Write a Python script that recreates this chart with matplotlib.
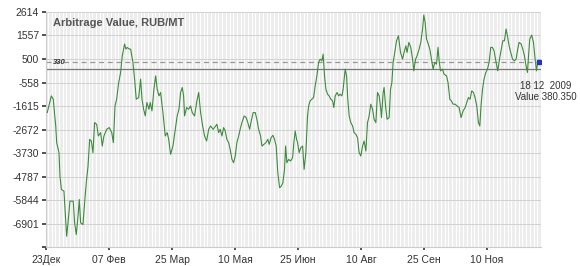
import matplotlib
matplotlib.use('Agg')
import matplotlib.pyplot as plt
import matplotlib.dates as mdates
import numpy as np
from datetime import datetime

plt.rcParams['font.family'] = ['Liberation Sans', 'DejaVu Sans']

# data: day offsets from 23 Dec 2008 and arbitrage value, RUB/MT
start = datetime(2008, 12, 23)
days = [0.9, 3.9, 5.3, 7.1, 7.8, 9.5, 10.2, 11.2, 13.1, 13.9, 15.1, 16.1, 17.5, 19.9, 20.9,
        22.1, 23.4, 24.3, 25.3, 27.0, 28.2, 29.4, 30.7, 31.9, 33.1, 34.3, 35.5, 37.0, 38.2,
        39.9, 41.1, 42.3, 44.3, 46.2, 48.0, 49.2, 50.4, 51.6, 53.1, 54.5, 55.7, 57.4, 58.4,
        59.3, 60.8, 61.8, 63.5, 64.7, 65.9, 67.7, 69.1, 70.1, 71.3, 72.5, 73.7, 75.2, 76.1,
        77.4, 78.8, 80.1, 81.2, 82.5, 83.7, 85.4, 87.1, 88.5, 89.6, 91.0, 92.7, 94.4, 95.8,
        97.1, 98.3, 99.5, 100.5, 101.2, 102.7, 104.2, 105.6, 106.8, 108.5, 110.2, 111.5,
        112.9, 114.4, 115.8, 117.3, 118.8, 120.2, 122.1, 124.8, 126.1, 127.2, 128.5, 129.7,
        130.9, 132.1, 133.4, 134.5, 135.8, 137.0, 138.2, 139.4, 140.7, 141.8, 143.1, 144.7,
        146.2, 147.4, 148.7, 149.9, 151.3, 152.8, 154.0, 155.3, 156.7, 157.7, 159.1, 160.6,
        162.0, 163.0, 164.4, 165.7, 166.9, 168.1, 169.3, 170.6, 171.8, 173.0, 174.2, 175.0,
        175.9, 177.2, 178.6, 180.1, 181.0, 182.0, 183.0, 183.7, 184.9, 186.1, 187.4, 188.5,
        189.8, 191.0, 191.8, 192.9, 194.2, 195.4, 196.6, 197.8, 199.1, 200.2, 201.5, 202.4,
        203.4, 204.4, 205.6, 206.8, 208.0, 209.3, 210.2, 211.2, 212.6, 213.7, 214.8, 216.1,
        217.0, 218.5, 219.5, 220.4, 221.4, 222.6, 223.9, 225.0, 226.3, 227.5, 228.7, 229.9,
        231.2, 232.3, 233.6, 234.8, 236.0, 237.2, 238.5, 239.6, 240.9, 242.1, 243.3, 244.5,
        245.0, 246.2, 246.9, 248.2, 249.1, 250.6, 251.6, 252.6, 253.5, 254.7, 256.0, 257.4,
        258.9, 260.4, 261.5, 262.8, 263.7, 265.0, 266.4, 267.7, 268.6, 269.9, 271.0, 272.5,
        273.7, 275.0, 275.9, 276.9, 277.9, 278.8, 280.3, 281.5, 282.7, 283.9, 285.2, 286.3,
        287.1, 288.1, 289.6, 290.7, 292.5, 293.6, 294.9, 296.1, 297.3, 298.8, 300.2, 301.7,
        303.1, 304.6, 306.1, 307.3, 308.5, 309.7, 310.9, 312.2, 313.3, 314.6, 315.8, 316.8,
        317.7, 318.8, 319.9, 321.2, 322.4, 323.6, 324.8, 326.0, 327.2, 328.5, 329.9, 331.2,
        332.3, 333.6, 334.8, 336.0, 337.0, 338.2, 339.4, 340.7, 342.1, 343.3, 344.5, 345.5,
        347.0, 348.2, 349.4, 350.6, 351.6, 352.4, 353.3, 354.7, 356.0, 357.2, 358.2, 359.1,
        360.0]
values = [-1910, -1161, -1310, -2514, -3263, -3714, -4769, -5369, -5445, -6271, -7475, -6857,
          -5896, -5896, -6871, -7398, -6573, -5820, -6871, -6947, -5969, -5067, -4318, -3114,
          -3190, -3714, -2361, -2437, -2965, -2812, -3416, -2965, -2663, -2586, -2812, -3263,
          -1612, -1310, -557, -106, 643, 1171, 945, 1022, 945, 945, 345, -408, -1310, -1233,
          -408, -1310, -1761, -2063, -1459, -1761, -1459, -1837, -859, -259, -859, -1161,
          -1008, -1910, -2965, -2812, -3114, -3790, -3416, -2663, -2063, -1761, -1008, -782,
          -1161, -2063, -1684, -1761, -1612, -1910, -2063, -1386, -1008, -1910, -2514, -2965,
          -3190, -2663, -2514, -2663, -2437, -2812, -2663, -2965, -2586, -2739, -3114, -3263,
          -3565, -4016, -4165, -3867, -3263, -2965, -2663, -2361, -2063, -2135, -2361, -2663,
          -2288, -1910, -1910, -2212, -2663, -2965, -3416, -3339, -3263, -3114, -3339, -3037,
          -2933, -3114, -3416, -4616, -5292, -5220, -5067, -4467, -3416, -4165, -4016, -4092,
          -3939, -3263, -2739, -3114, -3263, -3714, -3488, -3416, -4467, -3714, -2063, -1612,
          -1386, -1310, -1233, -710, -259, 345, 494, 418, 720, -259, -859, -1084, -1161, -1310,
          -1386, -1684, -1161, -1008, -1161, -1084, -1161, -859, 43, -259, -1310, -2063, -2361,
          -2514, -2812, -2888, -3037, -3714, -3867, -3416, -3190, -3641, -2361, -2063, -1535,
          -1761, -2212, -2361, -1008, -1161, -1761, -2135, -1008, -782, -1761, -2212, -2135,
          -859, -557, 345, 796, 1320, 1545, 796, 494, 796, 1094, 796, 1247, 1022, 494, -33, 494,
          643, 945, 1247, 1847, 2479, 2149, 1396, 1247, 945, 494, 43, 345, 269, 1022, 418, -33,
          43, -182, -259, -557, -1310, -1386, -1535, -1535, -1612, -1684, -2135, -1837, -1684,
          -1459, -1233, -1310, -935, -1008, -1233, -1612, -2361, -2514, -1612, -859, -408, -106,
          43, 345, 1022, 1022, 869, 418, -33, 494, 869, 1320, 1320, 1847, 1545, 1094, 796, 494,
          418, 494, 945, 1247, 1171, 945, 643, 192, -106, 643, 1396, 1577, 1247, 494, -33, 345,
          380.35]

y_ticks = [2614, 1557, 500, -558, -1615, -2672, -3730, -4787, -5844, -6901, -7958]
y_labels = ['2614', '1557', '500', '-558', '-1615', '-2672', '-3730', '-4787', '-5844', '-6901', '']
x_tick_dates = [datetime(2008, 12, 23), datetime(2009, 2, 7), datetime(2009, 3, 25),
                datetime(2009, 5, 10), datetime(2009, 6, 25), datetime(2009, 8, 10),
                datetime(2009, 9, 25), datetime(2009, 11, 10)]
x_tick_labels = ['23Дек', '07 Фев', '25 Мар', '10 Мая', '25 Июн', '10 Авг', '25 Сен', '10 Ноя']
ref_value_text = '330'
ref_line_level = 40
last_value = values[-1]
x_span_days = 361.5

x0 = mdates.date2num(start)
x = x0 + np.array(days)

fig = plt.figure(figsize=(5.8, 2.66), dpi=100)
ax = fig.add_axes([46 / 580, 19 / 266, 495 / 580, 235 / 266])
ax.set_facecolor('white')

# dense daily vertical grid
for d in np.arange(0, x_span_days, 1.0):
    ax.axvline(x0 + d, color='#e6e6e6', lw=0.5, zorder=0)
for yt in y_ticks:
    ax.axhline(yt, color='#d2d2d2', lw=0.7, zorder=1)

ax.axhline(ref_line_level, color='#777777', lw=0.9, zorder=2)
ax.axhline(last_value, color='#999999', lw=0.9, ls=(0, (4, 3)), zorder=2)
ax.axvline(x0 + x_span_days - 0.3, color='#999999', lw=0.8, ls=(0, (3, 3)), zorder=2)

ax.plot(x, values, color='#3d8a3d', lw=0.8, zorder=3)
ax.plot(x[-1], last_value, marker='s', ms=3.5, color='#2233cc', zorder=4)

ax.set_xlim(x0, x0 + x_span_days)
ax.set_ylim(y_ticks[-1], y_ticks[0])
ax.set_yticks(y_ticks)
ax.set_yticklabels(y_labels)
ax.set_xticks([mdates.date2num(d) for d in x_tick_dates])
ax.set_xticklabels(x_tick_labels)
ax.tick_params(axis='y', length=3, width=1.2, color='#333333', labelsize=7.5,
               labelcolor='#333333', pad=2)
ax.tick_params(axis='x', length=2, width=1.2, color='#333333', labelsize=7.5,
               labelcolor='#333333', pad=4)
for s in ['top', 'right']:
    ax.spines[s].set_visible(False)
for s in ['left', 'bottom']:
    ax.spines[s].set_color('#cccccc')
    ax.spines[s].set_linewidth(0.8)

ax.text(0.015, 0.955, 'Arbitrage Value, RUB/MT', transform=ax.transAxes, ha='left', va='center',
        fontsize=8, fontweight='bold', color='#555555')
ax.text(x0 + 5, ref_line_level + 150, ref_value_text, ha='left', va='bottom', fontsize=5.5,
        style='italic', fontweight='bold', color='#333333')

fig.text(520 / 580, 1 - 86 / 266, '18 12  2009', ha='left', va='center', fontsize=7, color='#333333')
fig.text(577 / 580, 1 - 97 / 266, 'Value 380.350', ha='right', va='center', fontsize=7, color='#333333')

fig.savefig('out.png', dpi=100)
